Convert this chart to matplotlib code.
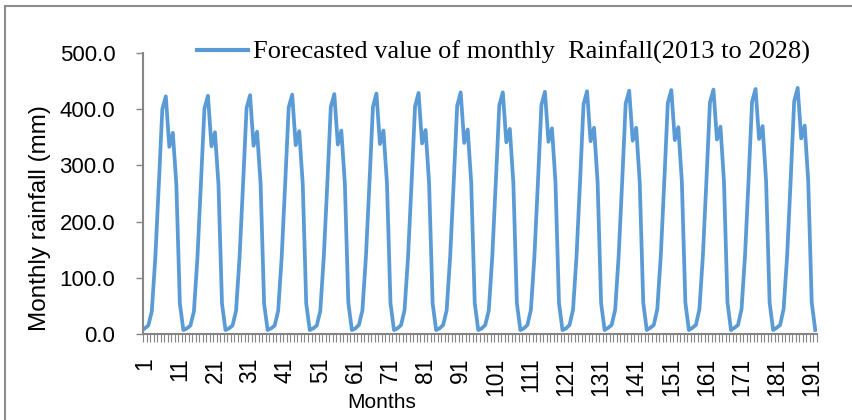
import matplotlib
matplotlib.use("Agg")
import matplotlib.pyplot as plt
from matplotlib.patches import Rectangle
import numpy as np

# forecasted monthly rainfall (mm), one row per year 2013..2028, Jan..Dec
rain_2013 = [10, 15, 40, 135, 265, 400, 423, 333, 358, 266, 54, 7]
rain_2014 = [10, 15, 40, 135, 266, 401, 424, 334, 359, 266, 54, 7]
rain_2015 = [10, 15, 41, 136, 266, 402, 425, 335, 360, 267, 54, 7]
rain_2016 = [10, 15, 41, 136, 267, 403, 426, 336, 361, 267, 54, 7]
rain_2017 = [10, 15, 41, 137, 267, 404, 427, 337, 362, 268, 55, 7]
rain_2018 = [10, 16, 42, 137, 268, 404, 428, 338, 362, 268, 55, 7]
rain_2019 = [10, 16, 42, 137, 268, 405, 429, 339, 363, 268, 55, 7]
rain_2020 = [10, 16, 42, 138, 269, 406, 430, 340, 364, 269, 55, 7]
rain_2021 = [10, 16, 42, 138, 270, 407, 430, 341, 365, 269, 55, 7]
rain_2022 = [10, 16, 43, 138, 270, 408, 431, 342, 366, 270, 55, 7]
rain_2023 = [10, 16, 43, 139, 271, 409, 432, 343, 367, 270, 55, 7]
rain_2024 = [11, 16, 43, 139, 271, 410, 433, 344, 367, 270, 56, 7]
rain_2025 = [11, 16, 44, 139, 272, 411, 434, 345, 368, 271, 56, 7]
rain_2026 = [11, 16, 44, 140, 273, 412, 435, 346, 369, 271, 56, 7]
rain_2027 = [11, 16, 44, 140, 273, 413, 436, 347, 370, 272, 56, 7]
rain_2028 = [11, 16, 45, 140, 274, 414, 438, 348, 371, 272, 56, 7]

years = [rain_2013, rain_2014, rain_2015, rain_2016, rain_2017, rain_2018,
         rain_2019, rain_2020, rain_2021, rain_2022, rain_2023, rain_2024,
         rain_2025, rain_2026, rain_2027, rain_2028]
rainfall = np.concatenate(years)
months = np.arange(1, len(rainfall) + 1)

label_months = list(range(1, 192, 10))
y_ticks = [0, 100, 200, 300, 400, 500]
legend_text = "Forecasted value of monthly  Rainfall(2013 to 2028)"

blue = "#5B9BD5"
gray = "#868686"
sans = ["Liberation Sans", "DejaVu Sans"]

fig = plt.figure(figsize=(8.53, 4.2), dpi=100)
ax = fig.add_axes([143 / 853, 86 / 420, 674 / 853, 281 / 420])

line, = ax.plot(months, rainfall, color=blue, lw=2.7, solid_joinstyle="round")

ax.set_xlim(0.5, len(rainfall) + 0.5)
ax.set_ylim(0, 500)

# y axis
ax.set_yticks(y_ticks)
ax.set_yticklabels(["%.1f" % v for v in y_ticks], fontsize=16, family=sans)
ax.tick_params(axis="y", length=5, width=1, color=gray, pad=15)

# x axis: small tick between every category, labels every 10
ax.set_xticks(label_months)
ax.set_xticklabels([str(m) for m in label_months], rotation=90, fontsize=16.5,
                   family=sans, va="top", ha="center")
ax.set_xticks(np.arange(0.5, len(rainfall) + 1, 1), minor=True)
ax.tick_params(axis="x", which="major", length=0, pad=17)
ax.tick_params(axis="x", which="minor", length=6, width=0.8, color=gray)

for side in ["top", "right"]:
    ax.spines[side].set_visible(False)
for side in ["left", "bottom"]:
    ax.spines[side].set_color(gray)
    ax.spines[side].set_linewidth(1.5)

fig.text(40 / 853, 1 - 218 / 420, "Monthly rainfall (mm)", rotation=90,
         ha="center", va="center", fontsize=17.5, family=sans)
fig.text(382 / 853, 1 - 403 / 420, "Months", ha="center", va="center",
         fontsize=15, family=sans)

leg = ax.legend([line], [legend_text], loc="upper left",
                bbox_to_anchor=(186 / 853, 1 - 30 / 420),
                bbox_transform=fig.transFigure, frameon=False,
                prop={"family": "Liberation Serif", "size": 19},
                handlelength=1.95, handletextpad=0.2, borderaxespad=0)
leg.get_lines()[0].set_linewidth(3)

# outer chart frame (only left/top edges visible in the crop)
fig.patches.append(Rectangle((5 / 853, -0.1), 1.2, 1 - 6 / 420 + 0.1,
                             transform=fig.transFigure, fill=False,
                             edgecolor="#8c8c8c", lw=1.5))

fig.savefig("out.png", dpi=100)
